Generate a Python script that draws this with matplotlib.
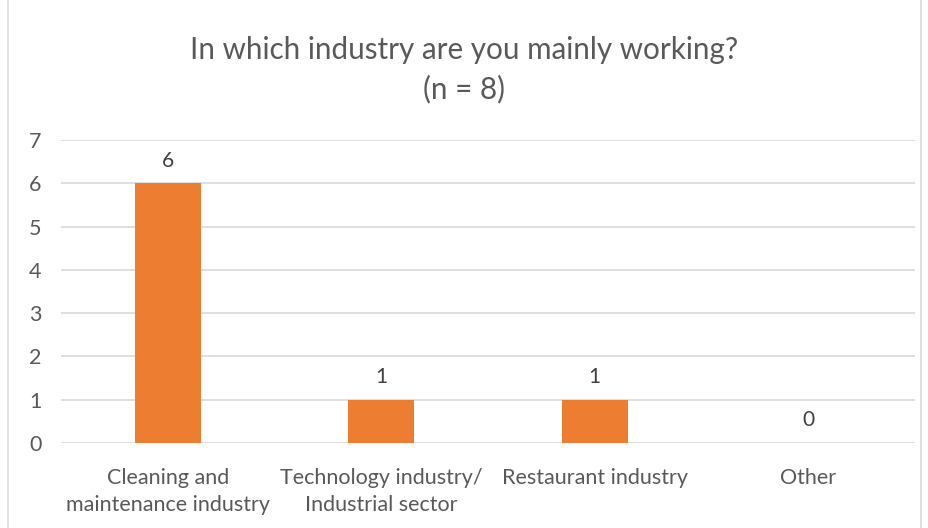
import matplotlib
matplotlib.use("Agg")
import matplotlib.pyplot as plt
from matplotlib.patches import Rectangle

categories = ["Cleaning and\nmaintenance industry",
              "Technology industry/\nIndustrial sector",
              "Restaurant industry",
              "Other"]
counts = [6, 1, 1, 0]
y_ticks = [0, 1, 2, 3, 4, 5, 6, 7]
title = "In which industry are you mainly working?\n(n = 8)"

plt.rcParams['font.family'] = ['Lato', 'DejaVu Sans']

fig = plt.figure(figsize=(9.29, 5.28), dpi=100)
ax = fig.add_axes([61 / 929, 1 - 443 / 528, (915 - 61) / 929, (443 - 140) / 528])

x = range(len(categories))
bars = ax.bar(x, counts, width=0.31, color="#ED7D31", zorder=3)
for xi, v in zip(x, counts):
    ax.annotate(str(v), (xi, v), xytext=(0, 9), textcoords="offset points",
                ha="center", va="bottom", fontsize=15, color="#404040")

ax.set_xlim(-0.5, len(categories) - 0.5)
ax.set_ylim(0, 7)
ax.set_yticks(y_ticks)
ax.set_xticks(list(x))
ax.set_xticklabels(categories, fontsize=15.5, color="#595959", linespacing=1.45)
ax.tick_params(axis="y", labelsize=15.5, labelcolor="#595959", length=0, pad=14)
ax.tick_params(axis="x", length=0, pad=18)
ax.grid(axis="y", color="#D9D9D9", linewidth=1.2, zorder=0)
for s in ax.spines.values():
    s.set_visible(False)

fig.text(0.5, 1 - 70 / 528, title, ha="center", va="center", fontsize=21.3,
         color="#595959", linespacing=1.45)

fig.patches.append(Rectangle((8 / 929, -0.01), 1 - 16 / 929, 1.02,
                             transform=fig.transFigure, fill=False,
                             edgecolor="#D9D9D9", linewidth=1.2))

fig.savefig("out.png", dpi=100)
